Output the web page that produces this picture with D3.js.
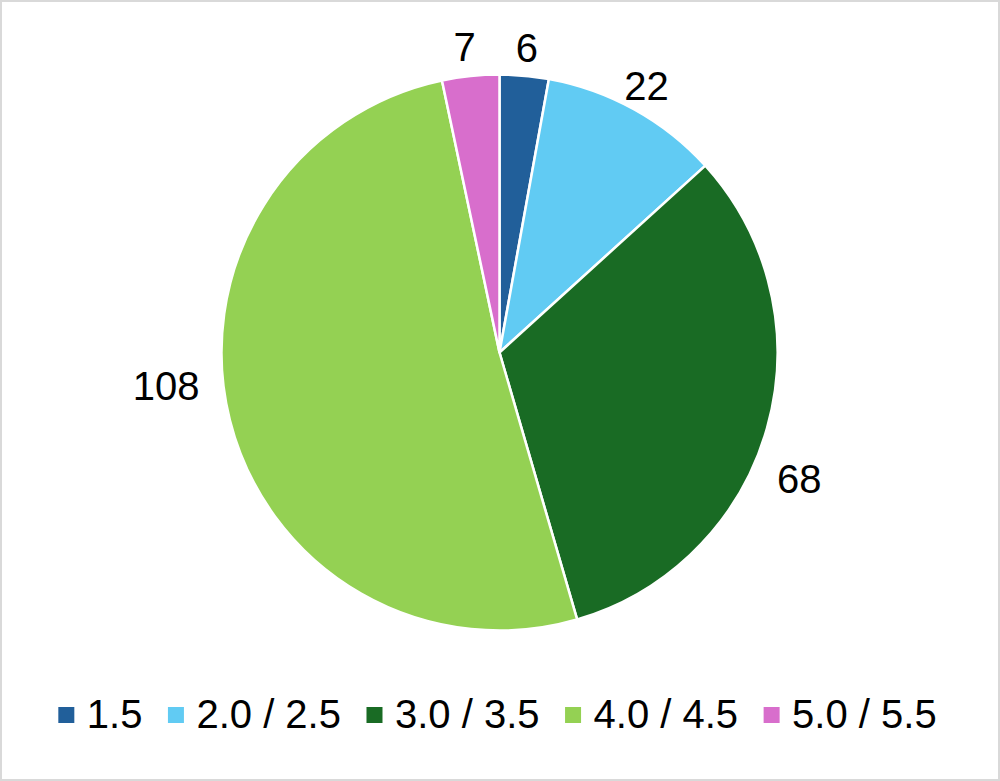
<!DOCTYPE html>
<html>
<head>
<meta charset="utf-8">
<script src="https://cdn.jsdelivr.net/npm/d3@7"></script>
<style>
  html, body { margin: 0; padding: 0; background: #fff; }
  svg { display: block; }
  text { font-family: "Liberation Sans", Arial, sans-serif; fill: #000; }
</style>
</head>
<body>
<svg id="chart" width="1000" height="781"></svg>
<script>
// ---- data ----
const categories = ["1.5", "2.0 / 2.5", "3.0 / 3.5", "4.0 / 4.5", "5.0 / 5.5"];
const values = [6, 22, 68, 108, 7];
const colors = ["#215F9A", "#61CBF3", "#196B24", "#94D153", "#D86ECC"];

// ---- layout (not data) ----
const W = 1000, H = 781;
const cx = 499.5, cy = 352.5, R = 278;
const fontSize = 40;
// label placement: angle nudge (deg) and radius of label centre
const labelLayout = [
  { da: 0.0, r: 306 },
  { da: -0.2, r: 305 },
  { da: 7.0, r: 325 },
  { da: 8.45, r: 335 },
  { da: -0.55, r: 308 }
];

const svg = d3.select("#chart");

svg.append("rect")
  .attr("x", 1).attr("y", 1)
  .attr("width", W - 2).attr("height", H - 2)
  .attr("fill", "#fff")
  .attr("stroke", "#D9D9D9")
  .attr("stroke-width", 2);

const data = categories.map((c, i) => ({ cat: c, value: values[i], color: colors[i], i }));

const pie = d3.pie().value(d => d.value).sort(null);
const arcs = pie(data);
const arc = d3.arc().innerRadius(0).outerRadius(R);

const g = svg.append("g").attr("transform", `translate(${cx},${cy})`);

g.selectAll("path.slice")
  .data(arcs)
  .join("path")
  .attr("class", "slice")
  .attr("d", arc)
  .attr("fill", d => d.data.color)
  .attr("stroke", "#fff")
  .attr("stroke-width", 2.5)
  .attr("stroke-linejoin", "round");

g.selectAll("text.lbl")
  .data(arcs)
  .join("text")
  .attr("class", "lbl")
  .attr("text-anchor", "middle")
  .attr("font-size", fontSize)
  .each(function(d) {
    const L = labelLayout[d.index];
    const a = (d.startAngle + d.endAngle) / 2 + L.da * Math.PI / 180;
    const x = Math.sin(a) * L.r;
    const y = -Math.cos(a) * L.r;
    d3.select(this).attr("x", x).attr("y", y + fontSize * 0.358);
  })
  .text(d => d.data.value);

// ---- legend ----
const sq = 16, sqGap = 12.5, itemGap = 25.5, legendBaseline = 728, legendCenter = 497.5;
const legend = svg.append("g");
const items = legend.selectAll("g.item").data(data).join("g").attr("class", "item");
items.append("rect")
  .attr("width", sq).attr("height", sq)
  .attr("y", legendBaseline - 21)
  .attr("fill", d => d.color);
items.append("text")
  .attr("font-size", fontSize)
  .attr("y", legendBaseline)
  .text(d => d.cat);

let widths = [];
items.select("text").each(function() { widths.push(this.getComputedTextLength()); });
const total = widths.reduce((s, w) => s + sq + sqGap + w, 0) + itemGap * (widths.length - 1);
let x0 = legendCenter - total / 2;
items.each(function(d, i) {
  const it = d3.select(this);
  it.select("rect").attr("x", x0);
  it.select("text").attr("x", x0 + sq + sqGap);
  x0 += sq + sqGap + widths[i] + itemGap;
});
</script>
</body>
</html>
